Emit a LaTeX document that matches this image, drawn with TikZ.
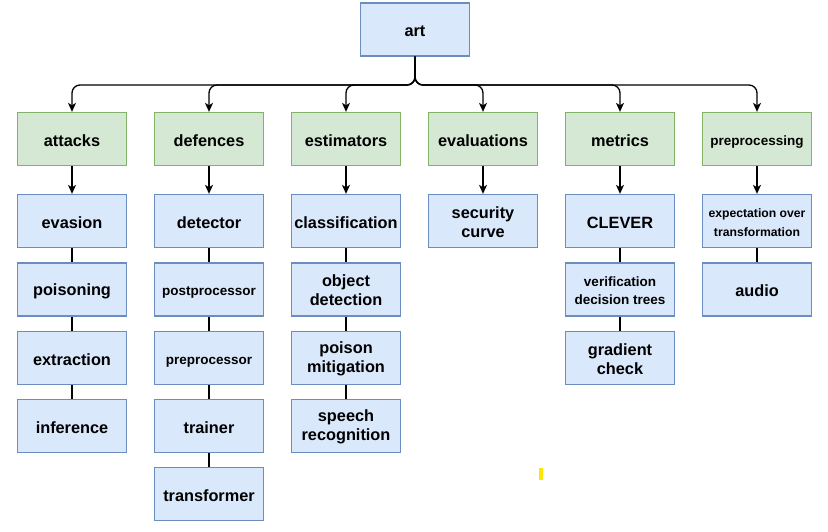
\documentclass[tikz,border=0pt]{standalone}
\usepackage{fontspec}
\setmainfont{Liberation Sans}
\usetikzlibrary{arrows.meta}
\definecolor{bfill}{HTML}{DAE8FC}
\definecolor{bdraw}{HTML}{6C8EBF}
\definecolor{gfill}{HTML}{D5E8D4}
\definecolor{gdraw}{HTML}{82B366}
\definecolor{ymark}{HTML}{FFE600}
\begin{document}
\begin{tikzpicture}[x=1pt,y=-1pt,
 box/.style={draw, line width=1.3pt, minimum width=109pt, minimum height=53pt, inner sep=0pt, align=center, font=\bfseries\fontsize{16.3}{19}\selectfont},
 bbox/.style={box, fill=bfill, draw=bdraw, text height=15pt},
 gbox/.style={box, fill=gfill, draw=gdraw, text height=15pt},
 mbox/.style={box, fill=bfill, draw=bdraw, text height=33pt},
 smalltxt/.style={font=\bfseries\fontsize{13.5}{18.5}\selectfont},
 tinytxt/.style={font=\bfseries\fontsize{12.2}{18.5}\selectfont},
 arr/.style={line width=1.3pt, -{Stealth[length=9pt,width=8pt,inset=2.5pt]}, rounded corners=8pt},
 link/.style={line width=1.3pt}]
\useasboundingbox (0,0) rectangle (828,532);

\node[bbox] (art) at (415,29.5) {art};
\coordinate (bus) at (415,85);

\node[gbox] (attacks) at (72,139) {attacks};
\node[gbox] (defences) at (209,139) {defences};
\node[gbox] (estimators) at (346,139) {estimators};
\node[gbox] (evaluations) at (483,139) {evaluations};
\node[gbox] (metrics) at (620,139) {metrics};
\node[gbox,smalltxt] (preprocessing) at (757,139) {preprocessing};

% column 1
\node[bbox] (evasion) at (72,221) {evasion};
\node[bbox] (poisoning) at (72,289.5) {poisoning};
\node[bbox] (extraction) at (72,358) {extraction};
\node[bbox] (inference) at (72,426) {inference};
% column 2
\node[bbox] (detector) at (209,221) {detector};
\node[bbox,smalltxt] (postprocessor) at (209,289.5) {postprocessor};
\node[bbox,smalltxt] (preprocessor) at (209,358) {preprocessor};
\node[bbox] (trainer) at (209,426) {trainer};
\node[bbox] (transformer) at (209,494) {transformer};
% column 3
\node[bbox] (classification) at (346,221) {classification};
\node[mbox] (objdet) at (346,289.5) {object\\detection};
\node[mbox] (poisonmit) at (346,358) {poison\\mitigation};
\node[mbox] (speech) at (346,426) {speech\\recognition};
% column 4
\node[mbox] (security) at (483,221) {security\\curve};
% column 5
\node[bbox] (clever) at (620,221) {CLEVER};
\node[mbox,smalltxt,text height=30.5pt] (verif) at (620,289.5) {verification\\decision trees};
\node[mbox] (gradient) at (620,358) {gradient\\check};
% column 6
\node[mbox,tinytxt,text height=30.5pt] (eot) at (757,221) {expectation over\\transformation};
\node[bbox] (audio) at (757,289.5) {audio};

% top connectors
\foreach \c in {attacks,defences,estimators,evaluations,metrics,preprocessing}
  \draw[arr] (art.south) -- (bus) -| (\c.north);

% green to first blue
\draw[arr] (attacks) -- (evasion);
\draw[arr] (defences) -- (detector);
\draw[arr] (estimators) -- (classification);
\draw[arr] (evaluations) -- (security);
\draw[arr] (metrics) -- (clever);
\draw[arr] (preprocessing) -- (eot);

% plain links
\draw[link] (evasion) -- (poisoning);
\draw[link] (poisoning) -- (extraction);
\draw[link] (extraction) -- (inference);
\draw[link] (detector) -- (postprocessor);
\draw[link] (postprocessor) -- (preprocessor);
\draw[link] (preprocessor) -- (trainer);
\draw[link] (trainer) -- (transformer);
\draw[link] (classification) -- (objdet);
\draw[link] (objdet) -- (poisonmit);
\draw[link] (poisonmit) -- (speech);
\draw[link] (clever) -- (verif);
\draw[link] (verif) -- (gradient);
\draw[link] (eot) -- (audio);

% yellow mark
\fill[ymark] (539,468) rectangle (543,480);
\end{tikzpicture}
\end{document}
